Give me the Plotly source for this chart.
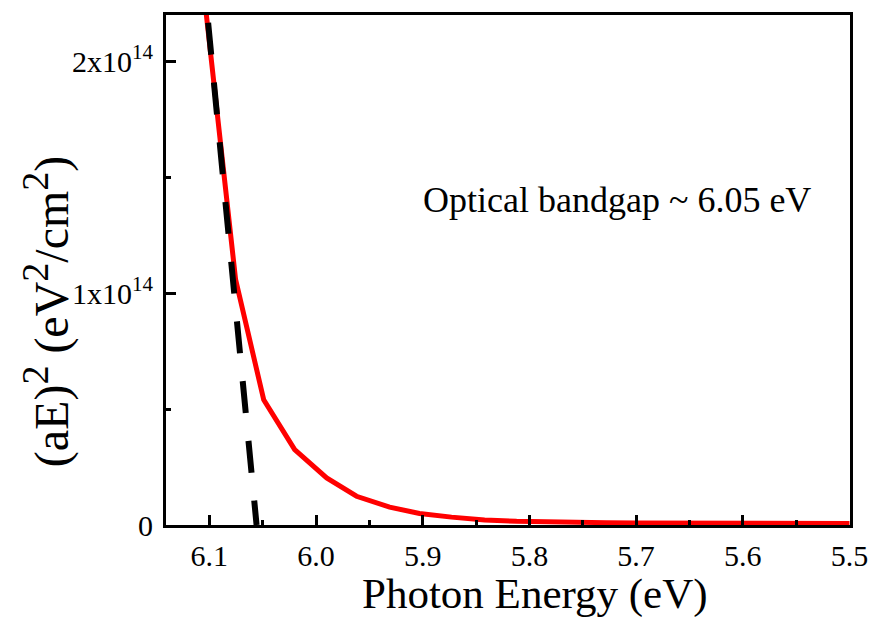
import plotly.graph_objects as go

# Measured (aE)^2 curve
energy_ev = [6.103, 6.0754, 6.049, 6.020, 5.990, 5.962, 5.931, 5.903, 5.873, 5.842,
             5.812, 5.785, 5.757, 5.728, 5.700, 5.671, 5.643, 5.614, 5.586, 5.557,
             5.528, 5.500]
ae_sq = [2.21e14, 1.06e14, 0.54e14, 0.325e14, 0.203e14, 0.124e14, 0.077e14, 0.050e14,
         0.034e14, 0.022e14, 0.016e14, 0.013e14, 0.011e14, 0.010e14, 0.009e14, 0.008e14,
         0.008e14, 0.007e14, 0.007e14, 0.007e14, 0.006e14, 0.006e14]

# Linear extrapolation (Tauc fit)
fit_x = [6.1065, 6.0557]
fit_y = [2.424e14, 0.0]

x_tickvals = [6.1, 6.0, 5.9, 5.8, 5.7, 5.6, 5.5]
x_ticktext = ["6.1", "6.0", "5.9", "5.8", "5.7", "5.6", "5.5"]
y_tickvals = [0, 1e14, 2e14]
y_ticktext = ["0", "1x10<sup>14</sup>", "2x10<sup>14</sup>"]

FONT = "Liberation Serif, Times New Roman, serif"

fig = go.Figure()
fig.add_trace(go.Scatter(x=energy_ev, y=ae_sq, mode="lines",
                         line=dict(color="#ff0000", width=5), showlegend=False))
fig.add_trace(go.Scatter(x=fit_x, y=fit_y, mode="lines",
                         line=dict(color="black", width=6, dash="32px,28px"),
                         showlegend=False))

axis_common = dict(showline=True, mirror=True, linewidth=3, linecolor="black",
                   ticks="inside", tickwidth=3, tickcolor="black", ticklen=10,
                   showgrid=False, zeroline=False,
                   tickfont=dict(family=FONT, size=30, color="black"))

fig.update_xaxes(range=[6.1406, 5.4995], tickvals=x_tickvals, ticktext=x_ticktext,
                 minor=dict(ticks="inside", ticklen=5, tickwidth=3, tickcolor="black",
                            tickvals=[6.05, 5.95, 5.85, 5.75, 5.65, 5.55]),
                 ticklabelstandoff=2, **axis_common)
fig.update_yaxes(range=[0, 2.2e14], tickvals=y_tickvals, ticktext=y_ticktext,
                 minor=dict(ticks="inside", ticklen=5, tickwidth=3, tickcolor="black",
                            tickvals=[0.5e14, 1.5e14]),
                 ticklabelstandoff=4, **axis_common)

fig.add_annotation(text="Optical bandgap ~ 6.05 eV", xref="paper", yref="paper",
                   x=(622 - 166) / 691, y=(525 - 200) / 510, showarrow=False,
                   xanchor="center", yanchor="middle",
                   font=dict(family=FONT, size=36, color="black"))
fig.add_annotation(text="Photon Energy (eV)", xref="paper", yref="paper",
                   x=(539 - 166) / 691, y=(525 - 594) / 510, showarrow=False,
                   xanchor="center", yanchor="middle",
                   font=dict(family=FONT, size=43, color="black"))
SUP = '<sup><span style="font-size:38px">2</span></sup>'
fig.add_annotation(text="(aE)" + SUP + " (eV" + SUP + "/cm" + SUP + ")",
                   xref="paper", yref="paper",
                   x=(46 - 166) / 691, y=(525 - 311) / 510, showarrow=False,
                   textangle=-90, xanchor="center", yanchor="middle",
                   font=dict(family=FONT, size=48, color="black"))

fig.update_layout(width=880, height=617, margin=dict(l=166, r=23, t=15, b=92),
                  plot_bgcolor="white", paper_bgcolor="white")

fig.write_html("out.html", config={"displayModeBar": False},
               post_script="document.body.style.margin='0';document.body.style.overflow='hidden';")
